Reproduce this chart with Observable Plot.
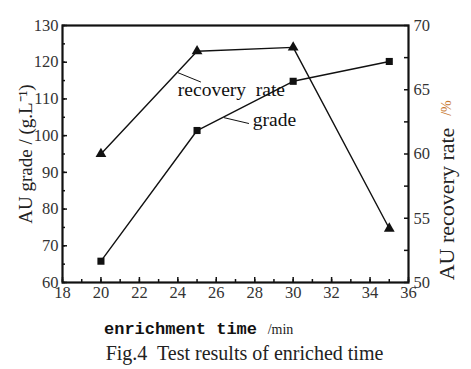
<!DOCTYPE html>
<html><head><meta charset="utf-8">
<script src="https://cdn.jsdelivr.net/npm/d3@7"></script>
<script src="https://cdn.jsdelivr.net/npm/@observablehq/plot@0.6"></script>
<style>
body{margin:0;background:#fff}
</style>
</head><body><div id="chart"></div>
<script>
// ---- data ----
const times = [20, 25, 30, 35];
const grade = [65.8, 101.4, 114.8, 120.2];      // AU grade (g·L-1), left axis
const recovery = [60.0, 68.0, 68.3, 54.2];      // AU recovery rate (%), right axis
const xTicks = [18, 20, 22, 24, 26, 28, 30, 32, 34, 36];
const gradeTicks = [60, 70, 80, 90, 100, 110, 120, 130];
const recTicks = [50, 55, 60, 65, 70];
const xDomain = [18, 36];
const gradeDomain = [60, 130];
const recDomain = [50, 70];

// annotation anchors (data units)
const notes = [
  {text: "recovery  rate", x: 24.0, y: 112.6},
  {text: "grade", x: 27.9, y: 104.3}
];
const leaders = [
  {x1: 23.98, y1: 117.2, x2: 25.2, y2: 114.6},
  {x1: 26.4, y1: 104.9, x2: 27.7, y2: 103.3}
];

// ---- helpers ----
const k = (gradeDomain[1] - gradeDomain[0]) / (recDomain[1] - recDomain[0]);
const toLeft = r => gradeDomain[0] + (r - recDomain[0]) * k;
const fromLeft = g => recDomain[0] + (g - gradeDomain[0]) / k;
const xMinor = d3.range(xDomain[0], xDomain[1] + 0.01, 1);
const gMinor = d3.range(gradeDomain[0], gradeDomain[1] + 0.01, 5);
const rMinor = d3.range(recDomain[0], recDomain[1] + 0.01, 2.5).map(toLeft);

const gradeRows = times.map((t, i) => ({t, v: grade[i]}));
const recRows = times.map((t, i) => ({t, v: toLeft(recovery[i])}));

const serif = "Liberation Serif";
const mono = "Liberation Mono";
const ink = "#111";
const blank = () => "";
const tickText = {fontFamily: serif, fontSize: 16.5, fill: "#333", fontVariant: "normal"};
const xTitle = "enrichment time";

const chart = Plot.plot({
  width: 471,
  height: 369,
  marginLeft: 62,
  marginRight: 63,
  marginTop: 25,
  marginBottom: 87,
  style: {background: "#fff"},
  x: {domain: xDomain, label: null},
  y: {domain: gradeDomain, label: null},
  marks: [
    // inward ticks
    Plot.axisX(xMinor, {tickSize: -3, tickFormat: blank, stroke: ink, strokeWidth: 1.5}),
    Plot.axisX(xTicks, {tickSize: -5, tickFormat: blank, stroke: ink, strokeWidth: 1.5}),
    Plot.axisX(xTicks, {tickSize: 0, tickPadding: 4, ...tickText}),
    Plot.axisY(gMinor, {tickSize: -3, tickFormat: blank, stroke: ink, strokeWidth: 1.5}),
    Plot.axisY(gradeTicks, {tickSize: -5, tickFormat: blank, stroke: ink, strokeWidth: 1.5}),
    Plot.axisY(gradeTicks, {tickSize: 0, tickPadding: 4, ...tickText}),
    Plot.axisY(rMinor, {anchor: "right", tickSize: -5, tickFormat: blank, stroke: ink, strokeWidth: 1.5}),
    Plot.axisY(recTicks.map(toLeft), {anchor: "right", tickSize: 0, tickPadding: 5, ...tickText,
      tickFormat: d => String(Math.round(fromLeft(d)))}),
    Plot.frame({stroke: ink, strokeWidth: 2.2}),
    // series
    Plot.line(recRows, {x: "t", y: "v", stroke: ink, strokeWidth: 1.4}),
    Plot.line(gradeRows, {x: "t", y: "v", stroke: ink, strokeWidth: 1.4}),
    Plot.dot(recRows, {x: "t", y: "v", symbol: "triangle", fill: ink, r: 4}),
    Plot.dot(gradeRows, {x: "t", y: "v", symbol: "square", fill: ink, r: 4}),
    // annotations
    Plot.link(leaders, {x1: "x1", y1: "y1", x2: "x2", y2: "y2", stroke: ink, strokeWidth: 1}),
    Plot.text(notes, {x: "x", y: "y", text: "text", textAnchor: "start", fontSize: 19.5, fill: "#111", fontFamily: serif}),
    // axis titles
    Plot.text(["AU grade / (g.L⁻¹)"], {frameAnchor: "left", textAnchor: "middle", lineAnchor: "middle", dx: -37, rotate: -90, fontSize: 19, fill: "#222", fontFamily: serif}),
    Plot.text(["AU recovery rate"], {frameAnchor: "right", textAnchor: "middle", lineAnchor: "middle", dx: 38, dy: 50, rotate: -90, fontSize: 22, fill: "#222", fontFamily: serif}),
    Plot.text(["/%"], {frameAnchor: "right", textAnchor: "middle", lineAnchor: "middle", dx: 38, dy: -46, rotate: -90, fontSize: 14, fill: "#c8782e", fontFamily: serif}),
    Plot.text([xTitle], {frameAnchor: "bottom", textAnchor: "middle", lineAnchor: "middle", dx: -55, dy: 46, fontSize: 17, fontWeight: 600, fill: "#111", fontFamily: mono}),
    Plot.text(["/min"], {frameAnchor: "bottom", textAnchor: "middle", lineAnchor: "middle", dx: 45, dy: 47, fontSize: 14, fill: "#222", fontFamily: serif}),
    // caption
    Plot.text(["Fig.4  Test results of enriched time"], {frameAnchor: "bottom", textAnchor: "middle", lineAnchor: "middle", dx: 9, dy: 71, fontSize: 20, fill: "#222", fontFamily: serif})
  ]
});
// enforce fonts inline (serif everywhere except the mono x title)
d3.select(chart).attr("font-family", serif).style("font-family", serif);
d3.select(chart).selectAll("g").style("font-family", serif).style("font-variant", "normal");
d3.select(chart).selectAll("text").each(function() {
  const isMono = this.textContent === xTitle;
  this.style.fontFamily = isMono ? mono : serif;
});
document.getElementById("chart").append(chart);
</script>
</body></html>
